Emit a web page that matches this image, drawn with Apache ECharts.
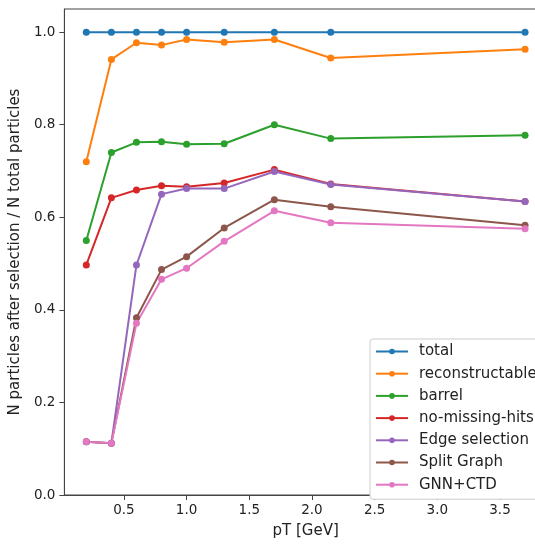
<!DOCTYPE html>
<html>
<head>
<meta charset="utf-8">
<script src="https://cdn.jsdelivr.net/npm/echarts@6/dist/echarts.min.js"></script>
<style>
html,body{margin:0;padding:0;overflow:hidden;background:#fff;}
#c{width:548px;height:544px;}
</style>
</head>
<body>
<div id="c"></div>
<script>
const pT = [0.2, 0.4, 0.6, 0.8, 1.0, 1.3, 1.7, 2.15, 3.7];
const total = [1.0, 1.0, 1.0, 1.0, 1.0, 1.0, 1.0, 1.0, 1.0];
const reconstructable = [0.720, 0.941, 0.977, 0.972, 0.984, 0.978, 0.984, 0.944, 0.963];
const barrel = [0.550, 0.740, 0.762, 0.763, 0.758, 0.759, 0.800, 0.770, 0.777];
const noMissingHits = [0.497, 0.642, 0.659, 0.668, 0.666, 0.674, 0.703, 0.672, 0.634];
const edgeSelection = [0.115, 0.112, 0.497, 0.650, 0.662, 0.662, 0.699, 0.671, 0.634];
const splitGraph = [0.115, 0.112, 0.383, 0.487, 0.515, 0.577, 0.638, 0.623, 0.583];
const gnnCtd = [0.115, 0.112, 0.371, 0.466, 0.490, 0.548, 0.614, 0.588, 0.575];
const xTicks = [0.5, 1.0, 1.5, 2.0, 2.5, 3.0, 3.5];
const yTicks = [0.0, 0.2, 0.4, 0.6, 0.8, 1.0];

const names = ['total', 'reconstructable', 'barrel', 'no-missing-hits', 'Edge selection', 'Split Graph', 'GNN+CTD'];
const values = [total, reconstructable, barrel, noMissingHits, edgeSelection, splitGraph, gnnCtd];
const colors = ['#1f77b4', '#ff7f0e', '#2ca02c', '#d62728', '#9467bd', '#8c564b', '#e377c2'];

const font = 'DejaVu Sans';
const chart = echarts.init(document.getElementById('c'));
chart.setOption({
  animation: false,
  color: colors,
  grid: {left: 62, top: 9, width: 485, height: 497, show: true, borderColor: '#444', borderWidth: 1, backgroundColor: 'transparent'},
  xAxis: {
    type: 'value', min: 0.025, max: 3.875,
    name: 'pT [GeV]', nameLocation: 'middle', nameGap: 29,
    nameTextStyle: {fontFamily: font, fontSize: 15, color: '#222'},
    axisLine: {show: true, onZero: false, lineStyle: {color: '#444', width: 1}},
    axisTick: {show: true, length: 5, customValues: xTicks, lineStyle: {color: '#444'}},
    axisLabel: {customValues: xTicks, margin: 8, fontFamily: font, fontSize: 13.5, color: '#222',
      formatter: v => v.toFixed(1)},
    splitLine: {show: false}
  },
  yAxis: {
    type: 'value', min: 0, max: 1.05,
    name: 'N particles after selection / N total particles', nameLocation: 'middle', nameGap: 40, nameRotate: 90,
    nameTextStyle: {fontFamily: font, fontSize: 15, color: '#222'},
    axisLine: {show: true, lineStyle: {color: '#444', width: 1}},
    axisTick: {show: true, length: 5, customValues: yTicks, lineStyle: {color: '#444'}},
    axisLabel: {customValues: yTicks, margin: 9, fontFamily: font, fontSize: 13.5, color: '#222',
      formatter: v => v.toFixed(1)},
    splitLine: {show: false}
  },
  legend: {
    orient: 'vertical', left: 370, top: 339,
    padding: [5, 6, 7, 5], itemGap: 7.2, itemWidth: 32, itemHeight: 7,
    backgroundColor: '#fff', borderColor: '#ccc', borderWidth: 1, borderRadius: 3,
    textStyle: {fontFamily: font, fontSize: 15, lineHeight: 15, color: '#222', padding: [0, 0, 0, 6]},
    data: names
  },
  series: names.map((n, i) => ({
    name: n, type: 'line',
    data: pT.map((x, j) => [x, values[i][j]]),
    symbol: 'circle', symbolSize: 7, showSymbol: true,
    lineStyle: {width: 2, color: colors[i]},
    itemStyle: {color: colors[i]},
    emphasis: {disabled: true}
  }))
});
</script>
</body>
</html>
